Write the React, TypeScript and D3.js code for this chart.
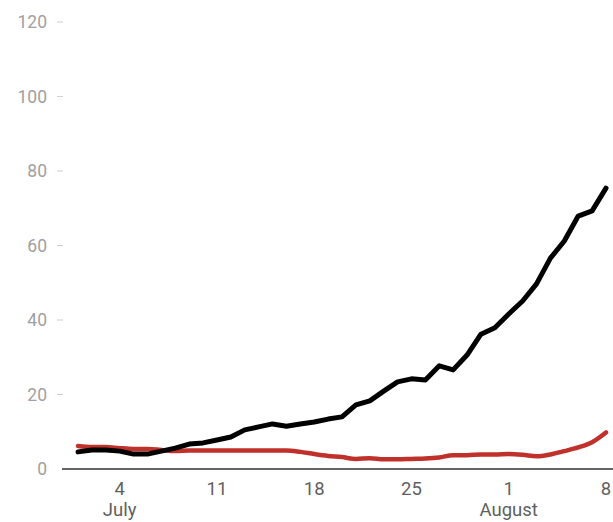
import React from "react";
import * as d3 from "d3";

const startDate = new Date(2020, 6, 1);
const blackValues = [4.6, 5.1, 5.1, 4.8, 4.0, 4.0, 4.8, 5.6, 6.7, 7.0, 7.8, 8.6, 10.5, 11.3, 12.1, 11.5, 12.1, 12.6, 13.4, 14.0, 17.2, 18.3, 20.9, 23.4, 24.2, 23.9, 27.7, 26.6, 30.6, 36.2, 37.9, 41.6, 45.1, 49.7, 56.6, 61.2, 67.9, 69.3, 75.4];
const redValues = [6.2, 5.9, 5.9, 5.6, 5.4, 5.4, 5.1, 4.8, 5.0, 5.0, 5.0, 5.0, 5.0, 5.0, 5.0, 5.0, 4.6, 4.0, 3.5, 3.2, 2.7, 2.9, 2.6, 2.6, 2.7, 2.8, 3.1, 3.7, 3.7, 3.9, 3.9, 4.0, 3.8, 3.4, 3.9, 4.8, 5.8, 7.2, 9.8];
const yTicks = [0, 20, 40, 60, 80, 100, 120];
const xTickDates = [new Date(2020, 6, 4), new Date(2020, 6, 11), new Date(2020, 6, 18), new Date(2020, 6, 25), new Date(2020, 7, 1), new Date(2020, 7, 8)];
const monthLabels = [{ date: new Date(2020, 6, 4), label: "July" }, { date: new Date(2020, 7, 1), label: "August" }];

const dates = blackValues.map((_, i) => d3.timeDay.offset(startDate, i));

export default function App() {
  const W = 613, H = 522;
  const x = d3.scaleTime().domain([startDate, d3.timeDay.offset(startDate, 38)]).range([78, 606]);
  const y = d3.scaleLinear().domain([0, 120]).range([469, 22]);
  const lineLinear = d3.line<number>().x((_, i) => x(dates[i])).y((v) => y(v));
  const lineSmooth = d3.line<number>().x((_, i) => x(dates[i])).y((v) => y(v)).curve(d3.curveMonotoneX);
  const font = "Roboto, 'Noto Sans', sans-serif";
  return (
    <svg width={W} height={H} style={{ position: "absolute", left: 0, top: 0 }}>
      <rect width={W} height={H} fill="#fff" />
      {yTicks.map((t) => (
        <g key={t}>
          <text x={47} y={y(t)} dy="0.35em" textAnchor="end" fontFamily={font} fontSize={17.5} fill="#a0a0a0">{t}</text>
          {t > 0 && <line x1={57} x2={63} y1={y(t)} y2={y(t)} stroke="#cfcfcf" strokeWidth={1} />}
        </g>
      ))}
      <line x1={62} x2={W} y1={y(0)} y2={y(0)} stroke="#333" strokeWidth={1.5} />
      {xTickDates.map((d, i) => (
        <text key={i} x={x(d)} y={495} textAnchor="middle" fontFamily={font} fontSize={18.5} fill="#5f5f5f">{d.getDate()}</text>
      ))}
      {monthLabels.map((m, i) => (
        <text key={i} x={x(m.date)} y={516} textAnchor="middle" fontFamily={font} fontSize={18.5} fill="#5f5f5f">{m.label}</text>
      ))}
      <path d={lineSmooth(redValues) || ""} fill="none" stroke="#c0312b" strokeWidth={4.5} strokeLinejoin="round" strokeLinecap="round" />
      <path d={lineLinear(blackValues) || ""} fill="none" stroke="#000" strokeWidth={5} strokeLinejoin="round" strokeLinecap="round" />
    </svg>
  );
}
